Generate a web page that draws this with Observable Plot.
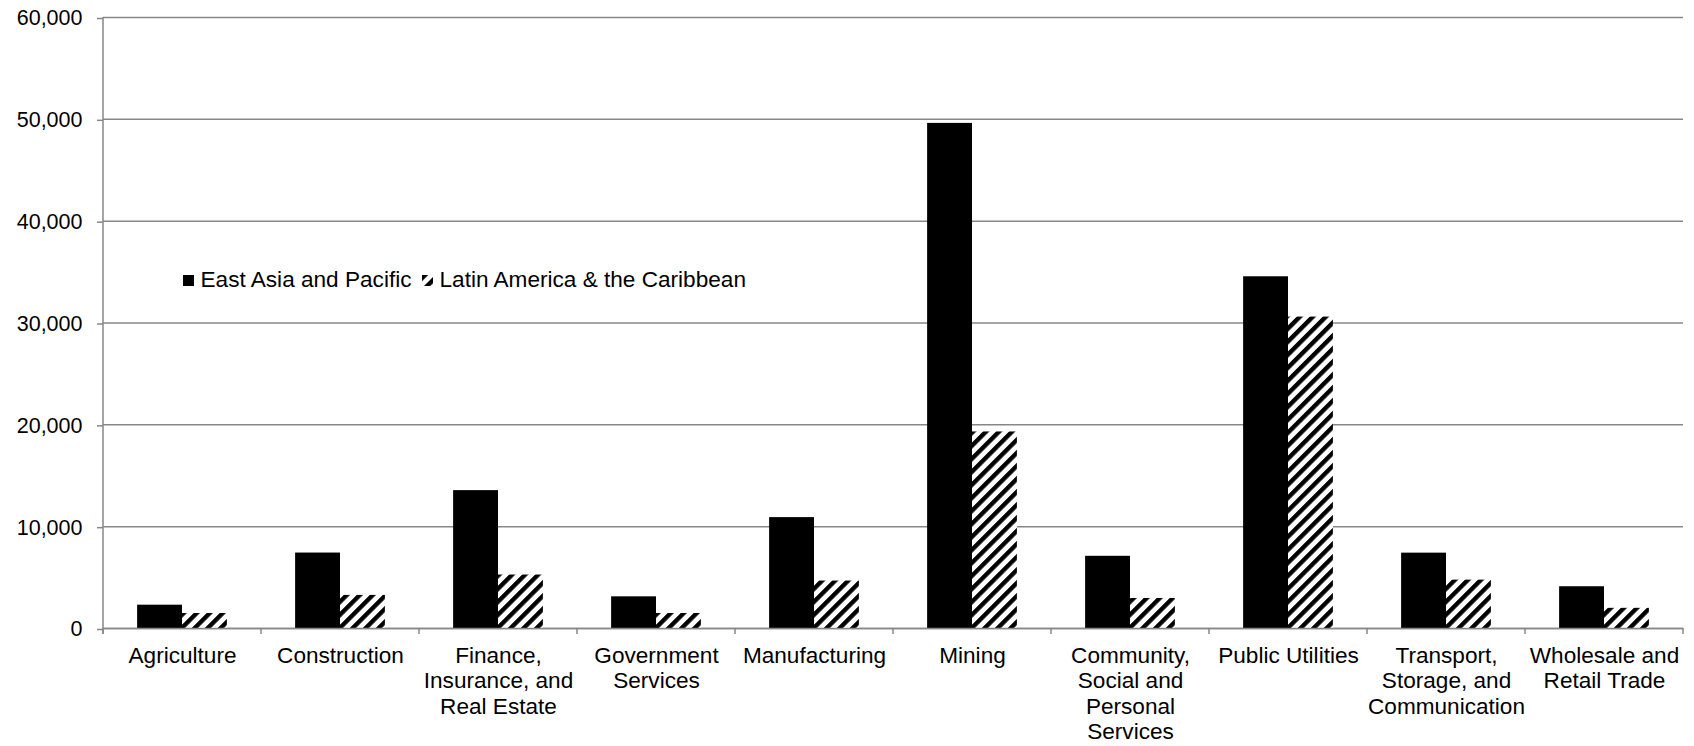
<!DOCTYPE html>
<html>
<head>
<meta charset="utf-8">
<script src="https://cdn.jsdelivr.net/npm/d3@7"></script>
<script src="https://cdn.jsdelivr.net/npm/@observablehq/plot@0.6"></script>
<style>
  body { margin: 0; background: #fff; }
  #wrap { position: relative; width: 1694px; height: 746px; font-family: "Liberation Sans", Arial, sans-serif; }
  .legend-item { position: absolute; top: 267px; font-size: 22.6px; line-height: 26px; white-space: nowrap; color: #000; }
  .swatch { display: inline-block; width: 11px; height: 11px; margin-right: 6.5px; vertical-align: 1px; }
</style>
</head>
<body>
<div id="wrap"></div>
<script>
// Sectors on the x axis
const categories = [
  "Agriculture", "Construction", "Finance, Insurance, and Real Estate", "Government Services",
  "Manufacturing", "Mining", "Community, Social and Personal Services", "Public Utilities",
  "Transport, Storage, and Communication", "Wholesale and Retail Trade"
];
// Wrapped tick labels for the sectors
const categoryLabels = [
  "Agriculture", "Construction", "Finance,\nInsurance, and\nReal Estate", "Government\nServices",
  "Manufacturing", "Mining", "Community,\nSocial and\nPersonal\nServices", "Public Utilities",
  "Transport,\nStorage, and\nCommunication", "Wholesale and\nRetail Trade"
];
const seriesNames = ["East Asia and Pacific", "Latin America & the Caribbean"];
const eastAsiaPacific = [2290, 7410, 13540, 3110, 10890, 49600, 7090, 34540, 7400, 4100];
const latinAmericaCaribbean = [1475, 3250, 5250, 1475, 4660, 19300, 2950, 30580, 4750, 1980];
const yTicks = [0, 10000, 20000, 30000, 40000, 50000, 60000];

const rows = categories.flatMap((c, i) => [
  {category: c, series: seriesNames[0], value: eastAsiaPacific[i]},
  {category: c, series: seriesNames[1], value: latinAmericaCaribbean[i]}
]);
const labelOf = new Map(categories.map((c, i) => [c, categoryLabels[i]]));

const gray = "#878787";
const font = "'Liberation Sans', Arial, sans-serif";

const chart = Plot.plot({
  width: 1694,
  height: 746,
  marginLeft: 103,
  marginRight: 11,
  marginTop: 17,
  marginBottom: 118,
  style: {fontFamily: font, fontSize: "22px", color: "#000", background: "#fff"},
  fx: {domain: categories, paddingInner: 0, paddingOuter: 0, round: false, label: null},
  x: {domain: seriesNames, paddingInner: 0, paddingOuter: 0.76, round: false, axis: null},
  y: {domain: [0, 60000], label: null},
  color: {domain: seriesNames, range: ["#000000", "url(#hatch)"]},
  marks: [
    Plot.gridY(yTicks, {stroke: gray, strokeOpacity: 1, strokeWidth: 1.5}),
    Plot.barY(rows, {fx: "category", x: "series", y: "value", fill: "series"}),
    Plot.ruleY([0], {stroke: gray, strokeWidth: 1.5}),
    Plot.axisY(yTicks, {
      tickFormat: d3.format(","), tickSize: 6, tickPadding: 15,
      stroke: gray, strokeWidth: 1.5, fill: "#000", fontSize: 21.5, label: null, dy: 1
    }),
    Plot.axisFx({
      anchor: "bottom", tickSize: 0, tickPadding: 16,
      tickFormat: d => labelOf.get(d), lineHeight: 1.13, fontSize: 22.6, fill: "#000", label: null
    })
  ]
});

const svg = d3.select(chart);

// Diagonal hatch used by the second series
function addHatch(defs, id) {
  const p = defs.append("pattern")
    .attr("id", id)
    .attr("patternUnits", "userSpaceOnUse")
    .attr("width", 9.2).attr("height", 9.2)
    .attr("patternTransform", "rotate(45)");
  p.append("rect").attr("width", 9.2).attr("height", 9.2).attr("fill", "#fff");
  p.append("rect").attr("width", 4.4).attr("height", 9.2).attr("fill", "#000");
}
addHatch(svg.insert("defs", ":first-child"), "hatch");

// Category boundary ticks and the vertical value axis line
const fxs = chart.scale("fx");
const ys = chart.scale("y");
const step = (fxs.range[1] - fxs.range[0]) / categories.length;
const edges = d3.range(categories.length + 1).map(i => fxs.range[0] + i * step);
const y0 = ys.apply(0);
const yTop = ys.apply(60000);
const g = svg.append("g").attr("stroke", gray).attr("stroke-width", 1.5);
g.selectAll("line.edge").data(edges).join("line")
  .attr("class", "edge")
  .attr("x1", d => d).attr("x2", d => d)
  .attr("y1", y0).attr("y2", y0 + 6);
g.append("line")
  .attr("x1", fxs.range[0]).attr("x2", fxs.range[0])
  .attr("y1", yTop).attr("y2", y0 + 6);

const wrap = document.getElementById("wrap");
wrap.appendChild(chart);

// Legend drawn inside the plot area
const legend = d3.select(wrap);
const item1 = legend.append("div").attr("class", "legend-item").style("left", "183px");
item1.append("span").attr("class", "swatch").style("background", "#000");
item1.append("span").text(seriesNames[0]);

const item2 = legend.append("div").attr("class", "legend-item").style("left", "422px");
const sw = item2.append("svg").attr("class", "swatch").attr("width", 11).attr("height", 11);
addHatch(sw.append("defs"), "hatchSwatch");
sw.append("rect").attr("width", 11).attr("height", 11).attr("fill", "url(#hatchSwatch)");
item2.append("span").text(seriesNames[1]);
</script>
</body>
</html>
